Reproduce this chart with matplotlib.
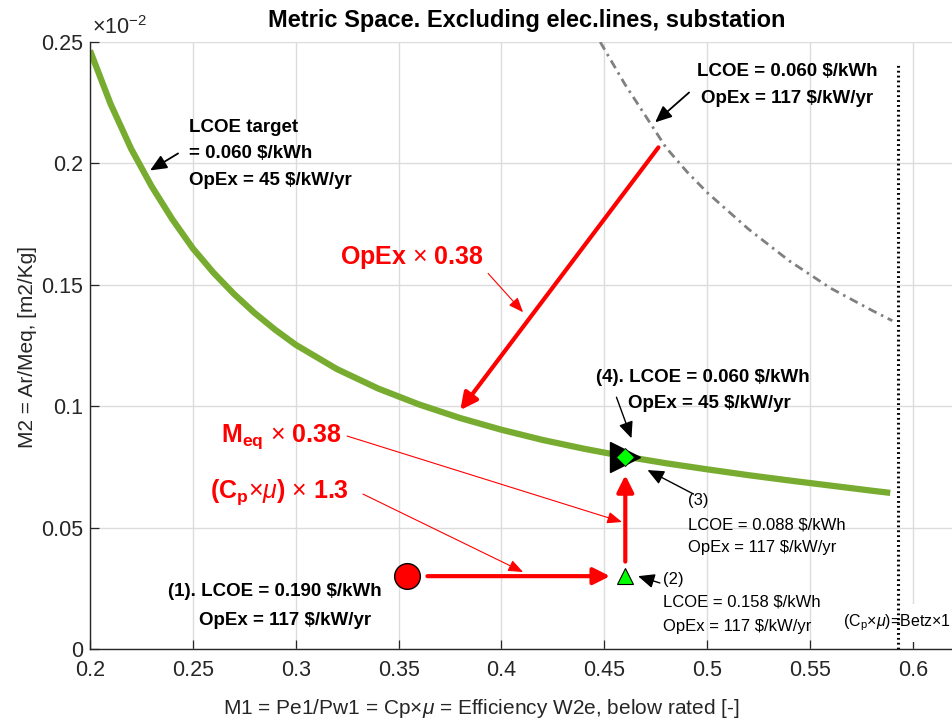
import matplotlib
matplotlib.use("Agg")
import matplotlib.pyplot as plt

plt.rcParams['font.family'] = ['Liberation Sans', 'DejaVu Sans']
plt.rcParams['mathtext.fontset'] = 'custom'
plt.rcParams['mathtext.rm'] = 'Liberation Sans'
plt.rcParams['mathtext.it'] = 'Liberation Sans:italic'
plt.rcParams['mathtext.bf'] = 'Liberation Sans:bold'

# ---- data (y in units of 1e-2) ----
target_x = [0.200, 0.210, 0.220, 0.230, 0.240, 0.250, 0.260, 0.270, 0.280, 0.290,
            0.300, 0.320, 0.340, 0.360, 0.380, 0.400, 0.420, 0.440, 0.460, 0.480,
            0.500, 0.520, 0.540, 0.560, 0.580, 0.589]
target_y = [0.2465, 0.2245, 0.2060, 0.1905, 0.1770, 0.1650, 0.1550, 0.1462, 0.1384, 0.1315,
            0.1253, 0.1153, 0.1073, 0.1007, 0.0951, 0.0903, 0.0861, 0.0825, 0.0793, 0.0765,
            0.0740, 0.0716, 0.0694, 0.0673, 0.0652, 0.0643]

base_x = [0.448, 0.460, 0.470, 0.480, 0.490, 0.500, 0.520, 0.540, 0.560, 0.580, 0.590]
base_y = [0.2500, 0.2326, 0.2196, 0.2065, 0.1967, 0.1880, 0.1730, 0.1598, 0.1486, 0.1395, 0.1352]

betz_x = 16 / 27
betz_top = 0.2415

p1 = (0.354, 0.030)
p2 = (0.4602, 0.030)
p3 = (0.4602, 0.0789)
p4 = (0.4602, 0.0789)

xticks = [0.2, 0.25, 0.3, 0.35, 0.4, 0.45, 0.5, 0.55, 0.6]
xticklabels = ['0.2', '0.25', '0.3', '0.35', '0.4', '0.45', '0.5', '0.55', '0.6']
yticks = [0, 0.05, 0.1, 0.15, 0.2, 0.25]
yticklabels = ['0', '0.05', '0.1', '0.15', '0.2', '0.25']

W, H = 952, 727
fig = plt.figure(figsize=(W / 100, H / 100), dpi=100)
ax = fig.add_axes([90 / W, (H - 649) / H, (W - 90) / W, (649 - 42) / H])
ax.set_xlim(0.2, 0.619)
ax.set_ylim(0, 0.25)

axcol = '#262626'
for s in ['top', 'right']:
    ax.spines[s].set_visible(False)
for s in ['left', 'bottom']:
    ax.spines[s].set_color(axcol)
    ax.spines[s].set_linewidth(1.0)

ax.set_xticks(xticks)
ax.set_xticklabels(xticklabels)
ax.set_yticks(yticks)
ax.set_yticklabels(yticklabels)
ax.tick_params(direction='in', length=6.5, width=0.9, colors=axcol, labelsize=15.5,
               labelcolor=axcol)
ax.tick_params(axis='x', pad=8)
ax.tick_params(axis='y', pad=5)
ax.grid(True, color='#dcdcdc', lw=1.0)
ax.set_axisbelow(True)

# curves
ax.plot(target_x, target_y, color='#77ac30', lw=4.5, solid_capstyle='butt',
        solid_joinstyle='round', zorder=2)
ax.plot(base_x, base_y, color='#808080', lw=2.0, linestyle=(0, (3.2, 1.8, 0.9, 1.8)), zorder=2)
ax.plot([betz_x, betz_x], [0, betz_top], color='black', lw=2.2, linestyle=(0, (0.6, 1.0)),
        zorder=6)

# arrows
def arrow(tail, tip, color, lw, hl, hw, ms=20, z=4):
    ax.annotate('', xy=tip, xytext=tail,
                arrowprops=dict(arrowstyle=f'-|>,head_length={hl},head_width={hw}',
                                color=color, lw=lw, shrinkA=0, shrinkB=0,
                                mutation_scale=ms), zorder=z)

# thick red arrows
arrow((0.4763, 0.2066), (0.380, 0.0984), 'red', 3.0, 0.5, 0.25)
arrow((0.364, 0.030), (0.4528, 0.030), 'red', 3.0, 0.5, 0.25)
arrow((0.4602, 0.036), (0.4602, 0.0716), 'red', 3.0, 0.5, 0.25)

# thin red arrows
arrow((0.3935, 0.1547), (0.4105, 0.1387), 'red', 0.8, 0.45, 0.18)
arrow((0.325, 0.0877), (0.4586, 0.0523), 'red', 0.8, 0.45, 0.18)
arrow((0.3327, 0.0638), (0.4105, 0.0317), 'red', 0.8, 0.45, 0.18)

# black arrows
arrow((0.2428, 0.2041), (0.2292, 0.1971), 'black', 1.3, 0.5, 0.22)
arrow((0.4912, 0.2292), (0.4747, 0.2169), 'black', 1.3, 0.5, 0.22)
arrow((0.4559, 0.1037), (0.4632, 0.0868), 'black', 1.0, 0.5, 0.22)
arrow((0.4934, 0.0638), (0.4710, 0.0737), 'black', 1.0, 0.5, 0.22)
arrow((0.477, 0.0272), (0.4664, 0.0300), 'black', 1.0, 0.5, 0.22)

# markers
ax.plot(*p1, marker='o', ms=18.5, mfc='red', mec='black', mew=1.0, zorder=5)
ax.plot(*p2, marker='^', ms=12, mfc='#00ff00', mec='black', mew=0.8, zorder=5)
ax.plot(*p4, marker='>', ms=22, mfc='black', mec='black', zorder=5)
ax.plot(*p3, marker='D', ms=9.5, mfc='#00ff00', mec='black', mew=0.6, zorder=6)

# texts
def t(x, y, s, size=13.5, weight='bold', ha='left', va='center', color='black', **kw):
    ax.text(x, y, s, fontsize=size, fontweight=weight, ha=ha, va=va, color=color, **kw)

t(0.2481, 0.2148, 'LCOE target')
t(0.2481, 0.2041, '= 0.060 $/kWh')
t(0.2481, 0.1930, 'OpEx = 45 $/kW/yr')

t(0.5388, 0.2379, 'LCOE = 0.060 $/kWh', ha='center')
t(0.5388, 0.2267, 'OpEx = 117 $/kW/yr', ha='center')

t(0.498, 0.1119, '(4). LCOE = 0.060 $/kWh', ha='center')
t(0.5009, 0.1012, 'OpEx = 45 $/kW/yr', ha='center')

t(0.4907, 0.0613, '(3)', size=12, weight='normal')
t(0.4907, 0.0510, 'LCOE = 0.088 $/kWh', size=12, weight='normal')
t(0.4907, 0.0420, 'OpEx = 117 $/kW/yr', size=12, weight='normal')

t(0.4786, 0.0288, '(2)', size=12, weight='normal')
t(0.4786, 0.0193, 'LCOE = 0.158 $/kWh', size=12, weight='normal')
t(0.4786, 0.0091, 'OpEx = 117 $/kW/yr', size=12, weight='normal')

t(0.2897, 0.0235, '(1). LCOE = 0.190 $/kWh', ha='center')
t(0.2946, 0.0119, 'OpEx = 117 $/kW/yr', ha='center')

t(0.3215, 0.1613, r'OpEx $\times$ 0.38', size=18, color='red')
t(0.2637, 0.0853, r'M$_{\mathbf{eq}}$ $\times$ 0.38', size=18, color='red', va='baseline')
t(0.2583, 0.0624, r'(C$_{\mathbf{p}}$$\times\mu$) $\times$ 1.3', size=18, color='red', va='baseline')

ax.text(0.5661, 0.0092, r'(C$_\mathrm{p}$$\times\mu$)=Betz$\times$1', fontsize=11.5,
        ha='left', va='baseline', color='black', zorder=5, clip_on=False,
        bbox=dict(boxstyle='square,pad=0.55', fc='white', ec='none'))

# axis labels and title
ax.set_xlabel(r'M1 = Pe1/Pw1 = Cp$\times\mu$ = Efficiency W2e, below rated [-]',
              fontsize=15, color=axcol)
ax.xaxis.set_label_coords((481 - 90) / (W - 90), (649 - 708) / (649 - 42))
ax.xaxis.label.set_va('center')
ax.set_ylabel('M2 = Ar/Meq, [m2/Kg]', fontsize=15, color=axcol)
ax.yaxis.set_label_coords((28 - 90) / (W - 90), (649 - 347) / (649 - 42))
ax.yaxis.label.set_va('center')

fig.text(527 / W, 1 - 20 / H, 'Metric Space. Excluding elec.lines, substation',
         fontsize=17, fontweight='bold', ha='center', va='center')
fig.text(92 / W, 1 - 28 / H, r'$\times$10$^{-2}$', fontsize=15.5, ha='left', va='center',
         color=axcol)

fig.savefig('out.png', dpi=100)
